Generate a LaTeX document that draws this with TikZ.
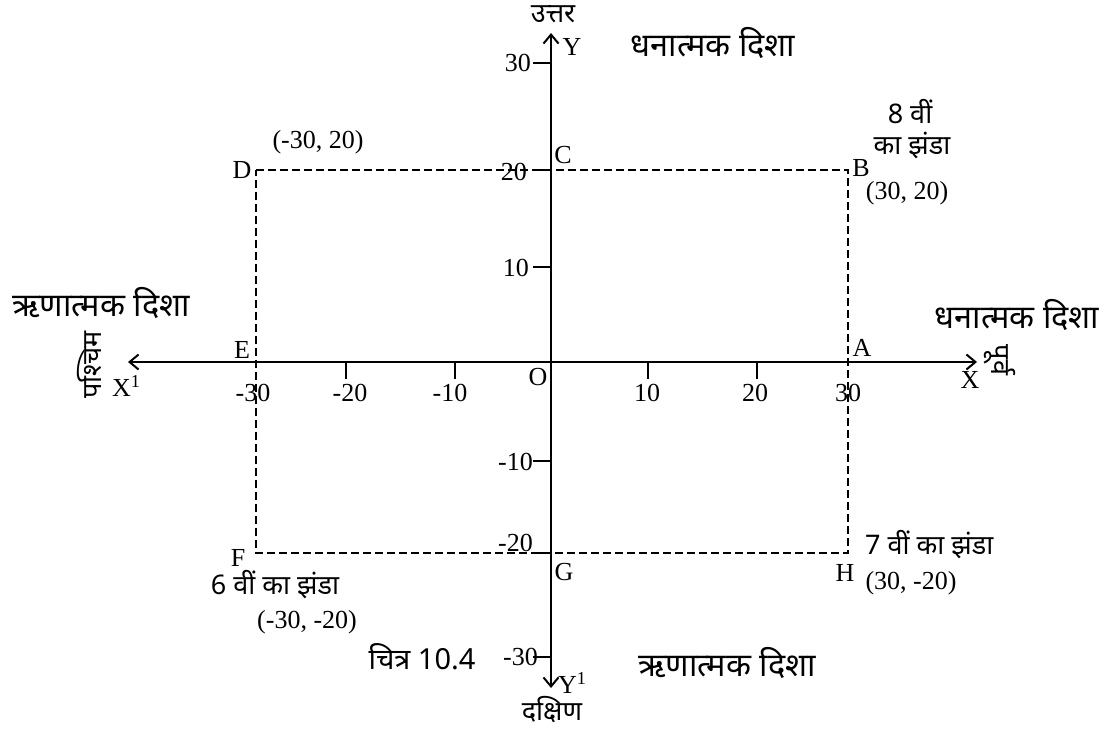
\documentclass[tikz,border=0pt]{standalone}
\usepackage{fontspec}
\setmainfont{Liberation Serif}
\newfontfamily\dev[Script=Devanagari]{Noto Sans}
\usetikzlibrary{arrows.meta}
\begin{document}
\begin{tikzpicture}[x=1pt,y=-1pt,
  >={Straight Barb[length=9pt,width=15pt,line width=2pt]},
  axis/.style={line width=2.2pt},
  tickmark/.style={line width=2pt},
  dashbox/.style={line width=1.8pt, dash pattern=on 8pt off 4pt},
  lab/.style={font=\fontsize{26}{26}\selectfont, inner sep=0pt},
  hin/.style={font=\dev\fontsize{32.5}{36}\selectfont, inner sep=0pt},
  hinax/.style={font=\dev\fontsize{27}{30}\selectfont, inner sep=0pt},
  hinsm/.style={font=\dev\fontsize{27}{30}\selectfont, inner sep=0pt}]
\useasboundingbox (0,0) rectangle (1107,730);
\fill[white] (0,0) rectangle (1107,730);
% key points
\coordinate (O) at (551,362);
\coordinate (xl) at (128,362);
\coordinate (xr) at (977,362);
\coordinate (yt) at (551,33);
\coordinate (yb) at (551,688);
\coordinate (D) at (256,170);
\coordinate (B) at (848,170);
\coordinate (H) at (848,553);
\coordinate (F) at (256,553);
% dashed rectangle
\draw[dashbox] (D) -- (B) -- (H) -- (F) -- cycle;
% axes
\draw[axis, <->] (xl) -- (xr);
\draw[axis, <->] (yb) -- (yt);
% ticks
\foreach \x in {346,455,648,757} \draw[tickmark] (\x,362) -- (\x,379);
\foreach \y in {63,170,267,461,553,657} \draw[tickmark] (533,\y) -- (551,\y);
% x tick labels
\node[lab] (xm30) at (253,393) {-30};
\node[lab] (xm20) at (350,393) {-20};
\node[lab] (xm10) at (450,393) {-10};
\node[lab] (x10) at (647,393) {10};
\node[lab] (x20) at (755,393) {20};
\node[lab] (x30) at (848,393) {30};
% y tick labels
\node[lab, anchor=east] (y30) at (531,63) {30};
\node[lab, anchor=east] (y20) at (527,172) {20};
\node[lab, anchor=east] (y10) at (529,268) {10};
\node[lab, anchor=east] (ym10) at (533,462) {-10};
\node[lab, anchor=east] (ym20) at (533,543) {-20};
\node[lab, anchor=east] (ym30) at (538,657) {-30};
% point letters
\node[lab] (lO) at (538,377) {O};
\node[lab] (lC) at (563,155) {C};
\node[lab] (lD) at (242,170) {D};
\node[lab] (lE) at (242,350) {E};
\node[lab] (lA) at (862,348) {A};
\node[lab] (lB) at (861,168) {B};
\node[lab] (lH) at (845,573) {H};
\node[lab] (lF) at (238,558) {F};
\node[lab] (lG) at (564,572) {G};
% axis names
\node[lab] (lY) at (572,47) {Y};
\node[lab, anchor=west] (lY1) at (558,683) {Y\textsuperscript{1}};
\node[lab] (lX) at (970,380) {X};
\node[lab, anchor=west] (lX1) at (112,386) {X\textsuperscript{1}};
% coordinates
\node[lab] (cD) at (318,142) {(-30, 20)};
\node[lab] (cB) at (907,193) {(30, 20)};
\node[lab] (cH) at (911,583) {(30, -20)};
\node[lab] (cF) at (307,622) {(-30, -20)};
% flag labels
\node[hinsm] (f8a) at (910,112) {8 वीं};
\node[hinsm] (f8b) at (912,145) {का झंडा};
\node[hinsm, anchor=west] (f7) at (865,545) {7 वीं का झंडा};
\node[hinsm] (f6) at (275,585) {6 वीं का झंडा};
% directions
\node[hinax] (north) at (553,14) {उत्तर};
\node[hinax] (south) at (552,710) {दक्षिण};
\node[hinax, rotate=90] (west) at (89,365) {पश्चिम};
\node[hinax, rotate=-90] (east) at (1000,360) {पूर्व};
\node[hin] (posT) at (713,43) {धनात्मक दिशा};
\node[hin] (posR) at (1017,315) {धनात्मक दिशा};
\node[hin] (negL) at (101,303) {ऋणात्मक दिशा};
\node[hin] (negB) at (727,663) {ऋणात्मक दिशा};
\node[hinsm, font=\dev\fontsize{29}{32}\selectfont] (fig) at (422,657) {चित्र 10.4};
\end{tikzpicture}
\end{document}
